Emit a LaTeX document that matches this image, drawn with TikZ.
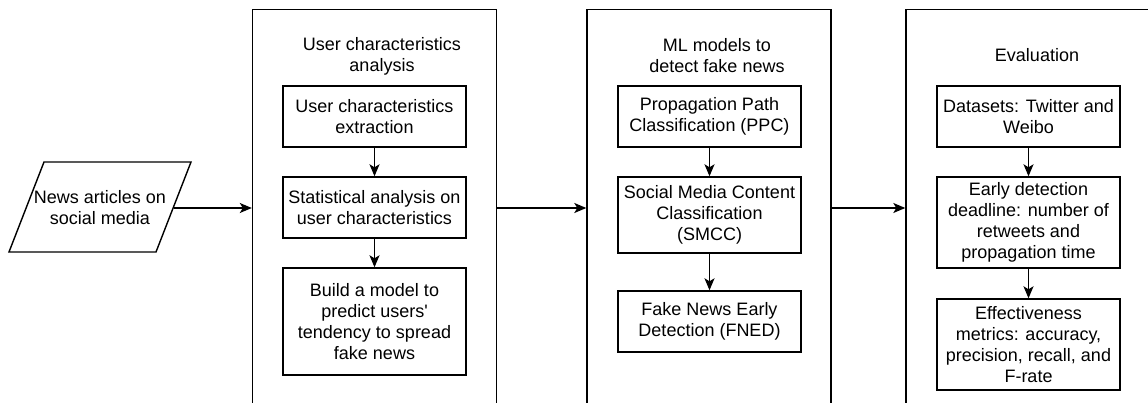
\documentclass[tikz,border=0pt]{standalone}
\usepackage{fontspec}
\setmainfont{Liberation Sans}
\usetikzlibrary{arrows.meta}
\begin{document}
\begin{tikzpicture}[x=1pt,y=-1pt,
  every node/.style={font=\fontsize{18}{21}\selectfont, align=center, inner sep=0pt},
  box/.style={draw, line width=1.4pt, minimum width=183pt},
  big/.style={draw, line width=1.4pt, minimum width=244pt, minimum height=430pt},
  conn/.style={line width=1.4pt, -{Stealth[length=12pt,width=10pt,inset=3pt]}}]
\useasboundingbox (0,0) rectangle (1148,403);
\clip (0,0) rectangle (1148,403);
% parallelogram
\draw[line width=1.4pt] (44,162) coordinate (pTL) -- (191,162) coordinate (pTR) -- (156,252) coordinate (pBR) -- (9,252) coordinate (pBL) -- cycle;
\coordinate (pR) at (173.5,208);
\node (news) at (100,208) {News articles on\\social media};
% big boxes
\node[big] (big1) at (374.5,224.5) {};
\node[big] (big2) at (709,224.5) {};
\node[big] (big3) at (1028,224.5) {};
% titles
\node (t1) at (382,56) {User characteristics\\analysis};
\node (t2) at (717,56) {ML models to\\detect fake news};
\node (t3) at (1037,55) {Evaluation};
% column 1
\node[box, minimum height=61pt] (a1) at (374.5,116.5) {User characteristics\\extraction};
\node[box, minimum height=61pt] (a2) at (374.5,207.5) {Statistical analysis on\\user characteristics};
\node[box, minimum height=107pt] (a3) at (374.5,321.5) {Build a model to\\predict users\textquotesingle\\tendency to spread\\fake news};
% column 2
\node[box, minimum height=61pt] (b1) at (709.5,116.5) {Propagation Path\\Classification (PPC)};
\node[box, minimum height=76pt] (b2) at (709.5,215) {Social Media Content\\Classification\\(SMCC)};
\node[box, minimum height=61pt] (b3) at (709.5,321.5) {Fake News Early\\Detection (FNED)};
% column 3
\node[box, minimum height=61pt] (c1) at (1028.5,116.5) {Datasets: Twitter and\\Weibo};
\node[box, minimum height=91pt] (c2) at (1028.5,222.5) {Early detection\\deadline: number of\\retweets and\\propagation time};
\node[box, minimum height=91pt] (c3) at (1028.5,344.5) {Effectiveness\\metrics: accuracy,\\precision, recall, and\\F-rate};
% connectors
\draw[conn] (pR) -- (pR -| big1.west);
\draw[conn] (big1.east |- pR) -- (big2.west |- pR);
\draw[conn] (big2.east |- pR) -- (big3.west |- pR);
\draw[conn] (a1) -- (a2);
\draw[conn] (a2) -- (a3);
\draw[conn] (b1) -- (b2);
\draw[conn] (b2) -- (b3);
\draw[conn] (c1) -- (c2);
\draw[conn] (c2) -- (c3);
\end{tikzpicture}
\end{document}
